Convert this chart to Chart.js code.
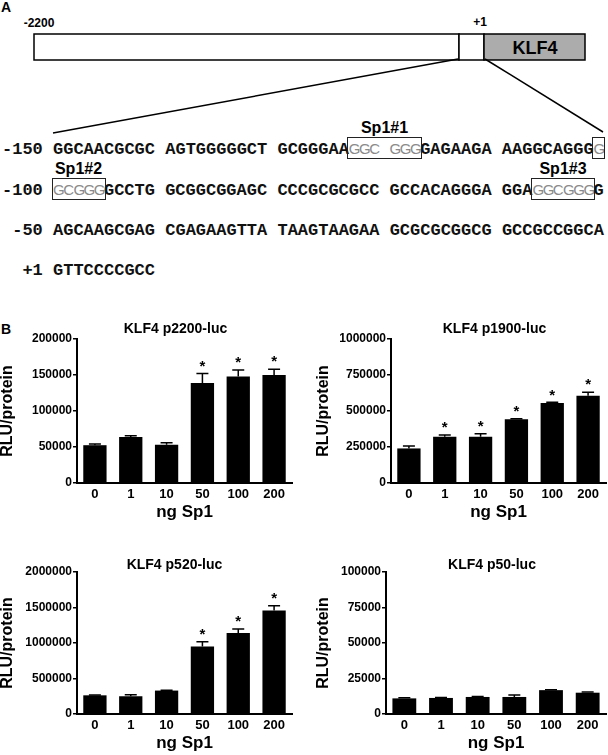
<!DOCTYPE html>
<html><head><meta charset="utf-8">
<script src="https://cdn.jsdelivr.net/npm/chart.js@4.4.1/dist/chart.umd.min.js"></script>
<style>
html,body{margin:0;padding:0;background:#fff;}
body{width:608px;height:755px;overflow:hidden;position:relative;font-family:"Liberation Sans",Arial,sans-serif;}
.abs{position:absolute;white-space:pre;}
.lbl{font-weight:bold;color:#000;line-height:1;transform:translate(-50%,-50%);}
.row{font-family:"Liberation Mono","Courier New",monospace;font-weight:bold;font-size:17px;line-height:17px;color:#111;}
.gr{display:inline-block;width:10.2px;text-align:center;font-family:"Liberation Sans",Arial,sans-serif;font-weight:normal;font-size:15px;color:#8a8a8a;}
.box{position:absolute;border:1.3px solid #222;box-sizing:border-box;}
canvas{position:absolute;}
svg{position:absolute;left:0;top:0;}
</style></head>
<body>
<svg width="608" height="160">
  <rect x="34" y="34" width="425" height="26" fill="#fff" stroke="#000" stroke-width="1.5"/>
  <rect x="459" y="34" width="25" height="26" fill="#fff" stroke="#000" stroke-width="1.5"/>
  <rect x="484" y="34" width="101" height="26" fill="#acacac" stroke="#000" stroke-width="1.5"/>
  <line x1="458" y1="59" x2="53" y2="133" stroke="#000" stroke-width="1.5"/>
  <line x1="485" y1="59" x2="603" y2="132" stroke="#000" stroke-width="1.5"/>
</svg>
<div class="abs lbl" style="left:6px;top:7px;font-size:14px;">A</div>
<div class="abs lbl" style="left:39px;top:23px;font-size:12px;">-2200</div>
<div class="abs lbl" style="left:480px;top:22px;font-size:12px;">+1</div>
<div class="abs lbl" style="left:535px;top:48px;font-size:18px;">KLF4</div>
<div class="abs lbl" style="left:6px;top:329px;font-size:14px;">B</div>
<div id="seq"></div>

<canvas id="c1" width="300" height="215" style="left:0px;top:315px;"></canvas>
<canvas id="c2" width="308" height="215" style="left:300px;top:315px;"></canvas>
<canvas id="c3" width="300" height="213" style="left:0px;top:548px;"></canvas>
<canvas id="c4" width="308" height="213" style="left:300px;top:548px;"></canvas>

<script>
// ---- Panel A: promoter sequence ----
const seqLabels = ['-150', '-100', '-50', '+1'];
const seqRows = [
  'GGCAACGCGC AGTGGGGGCT GCGGGAAGGC GGGGAGAAGA AAGGCAGGGG',
  'GCGGGGCCTG GCGGCGGAGC CCCGCGCGCC GCCACAGGGA GGAGGCGGGG',
  'AGCAAGCGAG CGAGAAGTTA TAAGTAAGAA GCGCGCGGCG GCCGCCGGCA',
  'GTTCCCCGCC'
];
// [row, firstChar, lastChar] of the grey, boxed Sp1 sites
const sp1Boxes = [[0, 29, 35], [0, 53, 53], [1, 0, 4], [1, 47, 52]];
// [name, row, firstChar, lastChar] of the site labels
const sp1Labels = [['Sp1#1', 0, 29, 35], ['Sp1#2', 1, 0, 4], ['Sp1#3', 1, 47, 52]];

// ---- Panel B: luciferase assays ----
const doses = ['0', '1', '10', '50', '100', '200'];

const p2200Mean = [52500, 64000, 53000, 139000, 148000, 150000];
const p2200Sem  = [1500, 1500, 3000, 13000, 9000, 8000];
const p2200Sig  = [false, false, false, true, true, true];
const p2200Ticks = [0, 50000, 100000, 150000, 200000];

const p1900Mean = [240000, 322000, 322000, 442000, 555000, 606000];
const p1900Sem  = [17000, 12000, 20000, 4000, 5000, 25000];
const p1900Sig  = [false, true, true, true, true, true];
const p1900Ticks = [0, 250000, 500000, 750000, 1000000];

const p520Mean = [263000, 250000, 330000, 949000, 1140000, 1458000];
const p520Sem  = [5000, 22000, 5000, 70000, 57000, 68000];
const p520Sig  = [false, false, false, true, true, true];
const p520Ticks = [0, 500000, 1000000, 1500000, 2000000];

const p50Mean = [11000, 11300, 12000, 12000, 16800, 15000];
const p50Sem  = [500, 300, 300, 1300, 200, 500];
const p50Sig  = [false, false, false, false, false, false];
const p50Ticks = [0, 25000, 50000, 75000, 100000];

// ---- build sequence text ----
(function () {
  const host = document.getElementById('seq');
  const cw = 10.2, seqLeft = 53, rowY = [148, 189, 230, 270];
  seqRows.forEach((s, r) => {
    const d = document.createElement('div');
    d.className = 'abs row';
    d.style.left = (seqLeft - 5 * cw) + 'px';
    d.style.top = (rowY[r] - 8.5) + 'px';
    let html = seqLabels[r].padStart(4, ' ') + ' ';
    for (let i = 0; i < s.length; i++) {
      const grey = sp1Boxes.some(b => b[0] === r && i >= b[1] && i <= b[2]);
      html += grey ? '<span class="gr">' + s[i] + '</span>' : s[i];
    }
    d.innerHTML = html;
    host.appendChild(d);
  });
  sp1Boxes.forEach(b => {
    const e = document.createElement('div');
    e.className = 'box';
    e.style.left = (seqLeft + b[1] * cw - 1.5) + 'px';
    e.style.width = ((b[2] - b[1] + 1) * cw + 3) + 'px';
    e.style.top = (rowY[b[0]] - 11) + 'px';
    e.style.height = '22px';
    host.appendChild(e);
  });
  sp1Labels.forEach(l => {
    const e = document.createElement('div');
    e.className = 'abs lbl';
    e.style.fontSize = '16px';
    e.style.left = (seqLeft + (l[2] + l[3] + 1) / 2 * cw) + 'px';
    e.style.top = (rowY[l[1]] - 20) + 'px';
    e.textContent = l[0];
    host.appendChild(e);
  });
})();

// ---- charts ----
const FONT = '"Liberation Sans", Arial, sans-serif';
const extras = {
  id: 'extras',
  afterDatasetsDraw(chart, args, o) {
    const ctx = chart.ctx, ys = chart.scales.y, meta = chart.getDatasetMeta(0);
    ctx.save();
    ctx.strokeStyle = '#000'; ctx.fillStyle = '#000'; ctx.lineWidth = 1.5;
    o.sem.forEach((s, i) => {
      const bar = meta.data[i];
      const top = ys.getPixelForValue(o.mean[i] + s);
      ctx.beginPath();
      ctx.moveTo(bar.x, bar.y); ctx.lineTo(bar.x, top);
      ctx.moveTo(bar.x - 6, top); ctx.lineTo(bar.x + 6, top);
      ctx.stroke();
      if (o.sig[i]) {
        ctx.font = 'bold 15px ' + FONT;
        ctx.textAlign = 'center'; ctx.textBaseline = 'middle';
        ctx.fillText('*', bar.x, top - 7);
      }
    });
    const ca = chart.chartArea;
    ctx.font = 'bold 14px ' + FONT;
    ctx.textAlign = 'center'; ctx.textBaseline = 'middle';
    ctx.fillText(o.title, (ca.left + ca.right) / 2 + o.dx, ca.top - o.dy);
    ctx.restore();
  }
};

function makeChart(id, title, mean, sem, sig, ticks, yW, padR, ytPad, dx, dy) {
  new Chart(document.getElementById(id), {
    type: 'bar',
    data: {
      labels: doses,
      datasets: [{ data: mean, backgroundColor: '#000', borderWidth: 0,
                   barPercentage: 0.65, categoryPercentage: 1 }]
    },
    options: {
      responsive: false, animation: false, devicePixelRatio: 1,
      layout: { padding: { top: 24, right: padR, left: 0, bottom: 0 } },
      plugins: {
        legend: { display: false }, tooltip: { enabled: false },
        extras: { title, mean, sem, sig, dx, dy }
      },
      scales: {
        x: {
          offset: true,
          grid: { display: false, drawTicks: false },
          border: { display: true, color: '#000', width: 2 },
          ticks: { color: '#000', font: { family: FONT, size: 13, weight: 'bold' }, padding: 4, maxRotation: 0, autoSkip: false },
          title: { display: true, text: 'ng Sp1', color: '#000', font: { family: FONT, size: 17, weight: 'bold', lineHeight: 1.2 }, padding: { top: 0, bottom: 7 } },
          afterFit(s) { s.height = 47; }
        },
        y: {
          min: ticks[0], max: ticks[ticks.length - 1],
          afterBuildTicks(s) { s.ticks = ticks.map(v => ({ value: v })); },
          ticks: { color: '#000', font: { family: FONT, size: 12, weight: 'bold' }, padding: 1, callback: v => String(v) },
          grid: { drawOnChartArea: false, drawTicks: true, tickLength: 4, color: '#000', lineWidth: 1.5 },
          border: { display: true, color: '#000', width: 2 },
          title: { display: true, text: 'RLU/protein', color: '#000', font: { family: FONT, size: 16, weight: 'bold', lineHeight: 1 }, padding: { top: ytPad, bottom: 0 } },
          afterFit(s) { s.width = yW; }
        }
      }
    },
    plugins: [extras]
  });
}

makeChart('c1', 'KLF4 p2200-luc', p2200Mean, p2200Sem, p2200Sig, p2200Ticks, 77, 8, 0, -9, 10);
makeChart('c2', 'KLF4 p1900-luc', p1900Mean, p1900Sem, p1900Sig, p1900Ticks, 91, 2, 16, -4, 10);
makeChart('c3', 'KLF4 p520-luc', p520Mean, p520Sem, p520Sig, p520Ticks, 77, 8, 0, -10, 7);
makeChart('c4', 'KLF4 p50-luc', p50Mean, p50Sem, p50Sig, p50Ticks, 86, 2, 16, -4, 7);
</script>
</body></html>
